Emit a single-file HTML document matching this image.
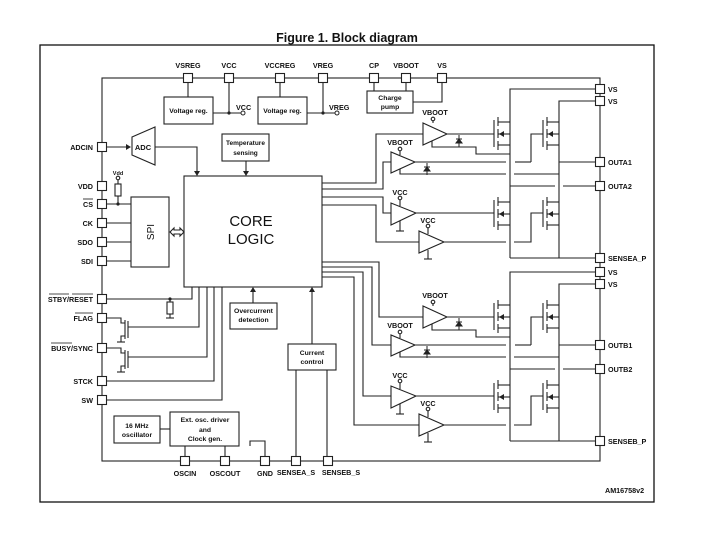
<!DOCTYPE html>
<html><head><meta charset="utf-8"><style>
html,body{margin:0;padding:0;background:#fff;}
svg{display:block;}
text{font-family:"Liberation Sans",Arial,sans-serif;fill:#111;}
.l{font-size:7.2px;font-weight:bold;}
.b{font-size:6.8px;font-weight:bold;}
</style></head><body>
<svg width="703" height="540" viewBox="0 0 703 540" xmlns="http://www.w3.org/2000/svg">
<defs>
<g id="fet" stroke="#222" stroke-width="1.1" fill="none">
<line x1="0" y1="3" x2="0" y2="30"/>
<line x1="4" y1="0" x2="4" y2="9"/><line x1="4" y1="12" x2="4" y2="21"/><line x1="4" y1="24" x2="4" y2="33"/>
<line x1="4" y1="5" x2="16" y2="5"/><line x1="4" y1="17" x2="16" y2="17"/><line x1="4" y1="28" x2="16" y2="28"/>
<polygon points="5,17 10,14 10,20" fill="#222" stroke="none"/>
</g>
<rect id="pin" x="-4.5" y="-4.5" width="9" height="9" fill="#fff" stroke="#222" stroke-width="1.1"/>
<g id="diode" stroke="#222" stroke-width="1" fill="#222"><line x1="0" y1="0" x2="0" y2="12"/><polygon points="-3,8 3,8 0,4"/><line x1="-3" y1="4" x2="3" y2="4"/></g>
</defs>
<text x="347" y="42" text-anchor="middle" style="font-size:12.5px;font-weight:bold">Figure 1. Block diagram</text>
<rect x="40" y="45" width="614" height="457" fill="none" stroke="#111" stroke-width="1.3"/>
<g stroke="#222" stroke-width="1.1" fill="none">
<!-- chip boundary -->
<rect x="102" y="78" width="498" height="383"/>
<!-- top -->
<line x1="188" y1="78" x2="188" y2="97"/><line x1="229" y1="78" x2="229" y2="113"/>
<rect x="164" y="97" width="49" height="27"/><line x1="213" y1="113" x2="241" y2="113"/>
<line x1="280" y1="78" x2="280" y2="97"/><line x1="323" y1="78" x2="323" y2="113"/>
<rect x="258" y="97" width="49" height="27"/><line x1="307" y1="113" x2="335" y2="113"/>
<rect x="367" y="91" width="46" height="22"/>
<line x1="374" y1="78" x2="374" y2="91"/><line x1="406" y1="78" x2="406" y2="91"/>
<polyline points="442,78 442,102 413,102"/>
<!-- ADC -->
<line x1="102" y1="147" x2="128" y2="147"/>
<polygon points="132,137 155,127 155,165 132,155"/>
<polyline points="155,147 197,147 197,173"/>
<rect x="222" y="134" width="47" height="27"/><line x1="246" y1="161" x2="246" y2="173"/>
<!-- core -->
<rect x="184" y="176" width="138" height="111"/>
<!-- SPI -->
<rect x="131" y="197" width="38" height="70"/>
<line x1="102" y1="204" x2="131" y2="204"/><line x1="102" y1="223" x2="131" y2="223"/>
<line x1="102" y1="242" x2="131" y2="242"/><line x1="102" y1="261" x2="131" y2="261"/>
<rect x="115" y="184" width="6" height="12"/><line x1="118" y1="196" x2="118" y2="204"/><line x1="118" y1="184" x2="118" y2="180"/>
<circle cx="118" cy="178" r="1.8"/>
<path d="M170,232 l4,-4 v2 h6 v-2 l4,4 l-4,4 v-2 h-6 v2 z"/>
<!-- left lower -->
<polyline points="102,299 192,299 192,287"/>
<rect x="167" y="302" width="6" height="12"/><line x1="170" y1="299" x2="170" y2="302"/><line x1="170" y1="314" x2="170" y2="318"/><line x1="166" y1="318" x2="174" y2="318"/>
<polyline points="102,318 121,318 121,323 125,323"/><polyline points="125,336 121,336 121,342"/><line x1="117" y1="342" x2="125" y2="342"/>
<line x1="125" y1="320" x2="125" y2="339"/><line x1="128" y1="321" x2="128" y2="338"/>
<polyline points="128,327 199,327 199,287"/>
<polyline points="102,348 121,348 121,353 125,353"/><polyline points="125,366 121,366 121,372"/><line x1="117" y1="372" x2="125" y2="372"/>
<line x1="125" y1="350" x2="125" y2="369"/><line x1="128" y1="351" x2="128" y2="368"/>
<polyline points="128,357 207,357 207,287"/>
<polyline points="102,381 214,381 214,287"/>
<polyline points="102,400 222,400 222,287"/>
<rect x="230" y="303" width="47" height="26"/><line x1="253" y1="303" x2="253" y2="290"/>
<rect x="288" y="344" width="48" height="26"/><line x1="312" y1="344" x2="312" y2="290"/>
<line x1="296" y1="370" x2="296" y2="461"/><line x1="327" y1="370" x2="327" y2="461"/>
<rect x="114" y="416" width="46" height="27"/><rect x="170" y="412" width="69" height="34"/>
<line x1="160" y1="429" x2="170" y2="429"/>
<line x1="185" y1="446" x2="185" y2="461"/><line x1="225" y1="446" x2="225" y2="461"/>
<polyline points="265,461 265,441 250,441 250,446"/>
<!-- core right lines -->
<polyline points="322,183 376,183 376,134 423,134"/>
<polyline points="322,189 383,189 383,162 391,162"/>
<polyline points="322,197 383,197 383,213 391,213"/>
<polyline points="322,205 376,205 376,242 419,242"/>
<polyline points="322,262 379,262 379,317 423,317"/>
<polyline points="322,267 372,267 372,345 391,345"/>
<polyline points="322,272 363,272 363,396 391,396"/>
<polyline points="322,277 354,277 354,425 419,425"/>
</g>
<g id="bridgeA" stroke="#222" stroke-width="1.1" fill="none">
<polyline points="510,122 510,89 600,89"/><polyline points="559,122 559,101 600,101"/>
<line x1="510" y1="122" x2="510" y2="258"/><line x1="559" y1="122" x2="559" y2="258"/>
<line x1="510" y1="258" x2="600" y2="258"/>
<polygon points="423,123 423,145 447,134"/><line x1="447" y1="134" x2="494" y2="134"/>
<polyline points="432,141 432,147 476,147 476,154 510,154"/>
<line x1="433" y1="123" x2="433" y2="121"/><circle cx="433" cy="119" r="1.8"/>
<polygon points="391,152 391,173 415,162"/><line x1="415" y1="162" x2="506" y2="162"/>
<line x1="515" y1="162" x2="531" y2="162"/><polyline points="531,162 531,134 543,134"/>
<line x1="559" y1="162" x2="600" y2="162"/>
<polyline points="400,169 400,174 506,174"/><line x1="514" y1="174" x2="559" y2="174"/>
<line x1="400" y1="155" x2="400" y2="151"/><circle cx="400" cy="149" r="1.8"/>
<line x1="510" y1="186" x2="555" y2="186"/><line x1="563" y1="186" x2="600" y2="186"/>
<polygon points="391,203 391,225 416,213"/><line x1="416" y1="213" x2="494" y2="213"/>
<line x1="400" y1="221" x2="400" y2="231"/><line x1="396" y1="231" x2="404" y2="231"/>
<line x1="400" y1="206" x2="400" y2="200"/><circle cx="400" cy="198" r="1.8"/>
<polygon points="419,231 419,253 444,242"/><line x1="444" y1="242" x2="506" y2="242"/>
<polyline points="514,242 531,242 531,213 543,213"/>
<line x1="428" y1="250" x2="428" y2="259"/><line x1="424" y1="259" x2="432" y2="259"/>
<line x1="428" y1="234" x2="428" y2="228"/><circle cx="428" cy="226" r="1.8"/>
<use href="#fet" x="494" y="117"/><use href="#fet" x="494" y="197"/>
<use href="#fet" x="543" y="117"/><use href="#fet" x="543" y="197"/>
<use href="#diode" x="459" y="135"/><use href="#diode" x="427" y="163"/>
</g>
<use href="#bridgeA" y="183"/>
<!-- pins -->
<use href="#pin" x="188" y="78"/><use href="#pin" x="229" y="78"/><use href="#pin" x="280" y="78"/><use href="#pin" x="323" y="78"/>
<use href="#pin" x="374" y="78"/><use href="#pin" x="406" y="78"/><use href="#pin" x="442" y="78"/>
<use href="#pin" x="102" y="147"/><use href="#pin" x="102" y="186"/><use href="#pin" x="102" y="204"/><use href="#pin" x="102" y="223"/>
<use href="#pin" x="102" y="242"/><use href="#pin" x="102" y="261"/><use href="#pin" x="102" y="299"/><use href="#pin" x="102" y="318"/>
<use href="#pin" x="102" y="348"/><use href="#pin" x="102" y="381"/><use href="#pin" x="102" y="400"/>
<use href="#pin" x="600" y="89"/><use href="#pin" x="600" y="101"/><use href="#pin" x="600" y="162"/><use href="#pin" x="600" y="186"/>
<use href="#pin" x="600" y="258"/><use href="#pin" x="600" y="272"/><use href="#pin" x="600" y="284"/><use href="#pin" x="600" y="345"/>
<use href="#pin" x="600" y="369"/><use href="#pin" x="600" y="441"/>
<use href="#pin" x="185" y="461"/><use href="#pin" x="225" y="461"/><use href="#pin" x="265" y="461"/><use href="#pin" x="296" y="461"/><use href="#pin" x="328" y="461"/>
<!-- dots / arrows -->
<g fill="#222">
<circle cx="229" cy="113" r="1.6"/><circle cx="323" cy="113" r="1.6"/><circle cx="118" cy="204" r="1.6"/><circle cx="170" cy="299" r="1.6"/>
<polygon points="131,147 126,144 126,150"/><polygon points="197,176 194,171 200,171"/><polygon points="246,176 243,171 249,171"/>
<polygon points="253,287 250,292 256,292"/><polygon points="312,287 309,292 315,292"/>
</g>
<circle cx="243" cy="113" r="2" fill="#fff" stroke="#222"/><circle cx="337" cy="113" r="2" fill="#fff" stroke="#222"/>
<!-- labels -->
<g class="l" text-anchor="middle">
<text x="188" y="68">VSREG</text><text x="229" y="68">VCC</text><text x="280" y="68">VCCREG</text><text x="323" y="68">VREG</text>
<text x="374" y="68">CP</text><text x="406" y="68">VBOOT</text><text x="442" y="68">VS</text>
<text x="185" y="476">OSCIN</text><text x="225" y="476">OSCOUT</text><text x="265" y="476">GND</text>
<text x="296" y="475">SENSEA_S</text><text x="341" y="475">SENSEB_S</text>
</g>
<g class="l" text-anchor="end">
<text x="93" y="150">ADCIN</text><text x="93" y="189">VDD</text><text x="93" y="207">CS</text><text x="93" y="226">CK</text>
<text x="93" y="245">SDO</text><text x="93" y="264">SDI</text><text x="93" y="302">STBY/RESET</text><text x="93" y="321">FLAG</text>
<text x="93" y="351">BUSY/SYNC</text><text x="93" y="384">STCK</text><text x="93" y="403">SW</text>
</g>
<g stroke="#111" stroke-width="0.8">
<line x1="83" y1="199" x2="93" y2="199"/><line x1="49" y1="294" x2="69" y2="294"/><line x1="72" y1="294" x2="93" y2="294"/>
<line x1="75" y1="313" x2="93" y2="313"/><line x1="51" y1="343" x2="72" y2="343"/>
</g>
<g class="l">
<text x="608" y="92">VS</text><text x="608" y="104">VS</text><text x="608" y="165">OUTA1</text><text x="608" y="189">OUTA2</text>
<text x="608" y="261">SENSEA_P</text><text x="608" y="275">VS</text><text x="608" y="287">VS</text><text x="608" y="348">OUTB1</text>
<text x="608" y="372">OUTB2</text><text x="608" y="444">SENSEB_P</text>
<text x="236" y="110">VCC</text><text x="329" y="110">VREG</text>
<text x="605" y="493">AM16758v2</text>
</g>
<g class="l" text-anchor="middle">
<text x="435" y="115">VBOOT</text><text x="400" y="145">VBOOT</text><text x="400" y="195">VCC</text><text x="428" y="223">VCC</text>
<text x="435" y="298">VBOOT</text><text x="400" y="328">VBOOT</text><text x="400" y="378">VCC</text><text x="428" y="406">VCC</text>
</g>
<g class="b" text-anchor="middle">
<text x="188.5" y="113">Voltage reg.</text><text x="282.5" y="113">Voltage reg.</text>
<text x="390" y="100">Charge</text><text x="390" y="109">pump</text>
<text x="143" y="150" style="font-size:7.5px">ADC</text>
<text x="245.5" y="145" style="font-size:6.5px">Temperature</text><text x="245.5" y="155" style="font-size:6.5px">sensing</text>
<text x="253.5" y="313">Overcurrent</text><text x="253.5" y="322">detection</text>
<text x="312" y="355">Current</text><text x="312" y="364">control</text>
<text x="137" y="428">16 MHz</text><text x="137" y="437">oscillator</text>
<text x="205" y="422">Ext. osc. driver</text><text x="205" y="432">and</text><text x="205" y="441">Clock gen.</text>
<text x="118" y="175" style="font-size:5.5px">Vdd</text>
</g>
<text x="251" y="226" text-anchor="middle" style="font-size:15px">CORE</text>
<text x="251" y="244" text-anchor="middle" style="font-size:15px">LOGIC</text>
<text x="0" y="0" transform="translate(154,232) rotate(-90)" text-anchor="middle" style="font-size:10px">SPI</text>
</svg>
</body></html>
